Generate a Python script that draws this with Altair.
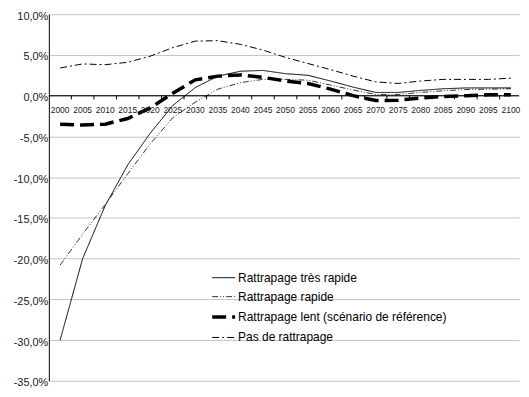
import altair as alt
import pandas as pd

years = list(range(2000, 2101, 5))

series_names = [
    "Rattrapage très rapide",
    "Rattrapage rapide",
    "Rattrapage lent (scénario de référence)",
    "Pas de rattrapage",
]
line_widths = [1.0, 0.8, 3.5, 1.0]
line_dashes = [[1, 0], [6, 2, 1, 2, 1, 2], [14, 6], [7, 3, 2, 3]]

tres_rapide = [-30.0, -20.0, -13.5, -8.5, -4.6, -1.2, 1.0, 2.4, 3.0, 3.1, 2.7,
               2.5, 1.8, 1.05, 0.4, 0.4, 0.65, 0.85, 0.95, 0.95, 0.95]
rapide = [-20.8, -17.0, -13.35, -9.6, -5.9, -2.7, -0.8, 0.8, 1.6, 2.0, 2.0,
          1.9, 1.3, 0.7, 0.15, 0.15, 0.4, 0.6, 0.75, 0.8, 0.85]
lent = [-3.5, -3.6, -3.5, -2.8, -1.5, 0.3, 1.95, 2.4, 2.55, 2.25, 1.8,
        1.5, 0.8, 0.0, -0.6, -0.55, -0.3, -0.1, 0.0, 0.1, 0.1]
pas = [3.4, 3.9, 3.8, 4.1, 4.85, 5.9, 6.7, 6.75, 6.3, 5.6, 4.7,
       3.95, 3.2, 2.4, 1.7, 1.5, 1.8, 2.0, 2.0, 2.0, 2.15]

y_ticks = list(range(-35, 11, 5))
tick_years = [y + 2.5 for y in years[:-1]]

rows = []
for name, vals in zip(series_names, [tres_rapide, rapide, lent, pas]):
    for yr, v in zip(years, vals):
        rows.append({"annee": yr, "valeur": v, "serie": name})
df = pd.DataFrame(rows)

zero_df = pd.DataFrame({"valeur": [0]})
ticks_df = pd.DataFrame({"annee": tick_years,
                         "valeur": [0] * len(tick_years),
                         "bas": [-0.45] * len(tick_years)})
labels_df = pd.DataFrame({"annee": years, "valeur": [0] * len(years),
                          "lab": [str(y) for y in years]})

x_scale = alt.Scale(domain=[1997.5, 2101.8], nice=False, zero=False)
y_scale = alt.Scale(domain=[-35, 10], nice=False, zero=False)

y_axis = alt.Axis(
    values=y_ticks,
    labelExpr="(datum.value < 0 ? '-' : '') + replace(format(abs(datum.value), '.1f'), '.', ',') + '%'",
    grid=True, gridColor="#c4c4c4", gridWidth=1,
    domainColor="black", domainWidth=1,
    ticks=False, labelPadding=1, labelFontSize=11,
    labelFont="Liberation Sans", labelColor="#222222", title=None,
    labelOffset=2,
)

legend = alt.Legend(
    orient="none", legendX=162, legendY=252.5, title=None,
    symbolType="stroke", symbolSize=529, symbolStrokeColor="black",
    labelFontSize=12, labelFont="Liberation Sans", labelColor="black",
    labelLimit=400, padding=0, rowPadding=1, labelOffset=1,
)

lines = alt.Chart(df).mark_line(color="black").encode(
    x=alt.X("annee:Q", scale=x_scale, axis=None),
    y=alt.Y("valeur:Q", scale=y_scale, axis=y_axis),
    strokeDash=alt.StrokeDash(
        "serie:N", sort=series_names,
        scale=alt.Scale(domain=series_names, range=line_dashes),
        legend=legend,
    ),
    strokeWidth=alt.StrokeWidth(
        "serie:N", sort=series_names,
        scale=alt.Scale(type="ordinal", domain=series_names, range=line_widths),
        legend=legend,
    ),
)

zero_line = alt.Chart(zero_df).mark_rule(color="black", strokeWidth=1).encode(
    y=alt.Y("valeur:Q", scale=y_scale),
)

xticks = alt.Chart(ticks_df).mark_rule(color="black", strokeWidth=1).encode(
    x=alt.X("annee:Q", scale=x_scale),
    y=alt.Y("valeur:Q", scale=y_scale),
    y2="bas:Q",
)

xlabels = alt.Chart(labels_df).mark_text(
    dy=14, fontSize=8.5, font="Liberation Sans Narrow, Liberation Sans",
    color="#222222", align="center",
).encode(
    x=alt.X("annee:Q", scale=x_scale),
    y=alt.Y("valeur:Q", scale=y_scale),
    text="lab:N",
)

chart = alt.layer(lines, zero_line, xticks, xlabels).properties(
    width=472, height=368,
    padding={"left": 5, "top": 1.5, "right": 0, "bottom": 0},
).configure_view(stroke=None)

chart.save("out.html", embed_options={"renderer": "svg", "actions": False})
